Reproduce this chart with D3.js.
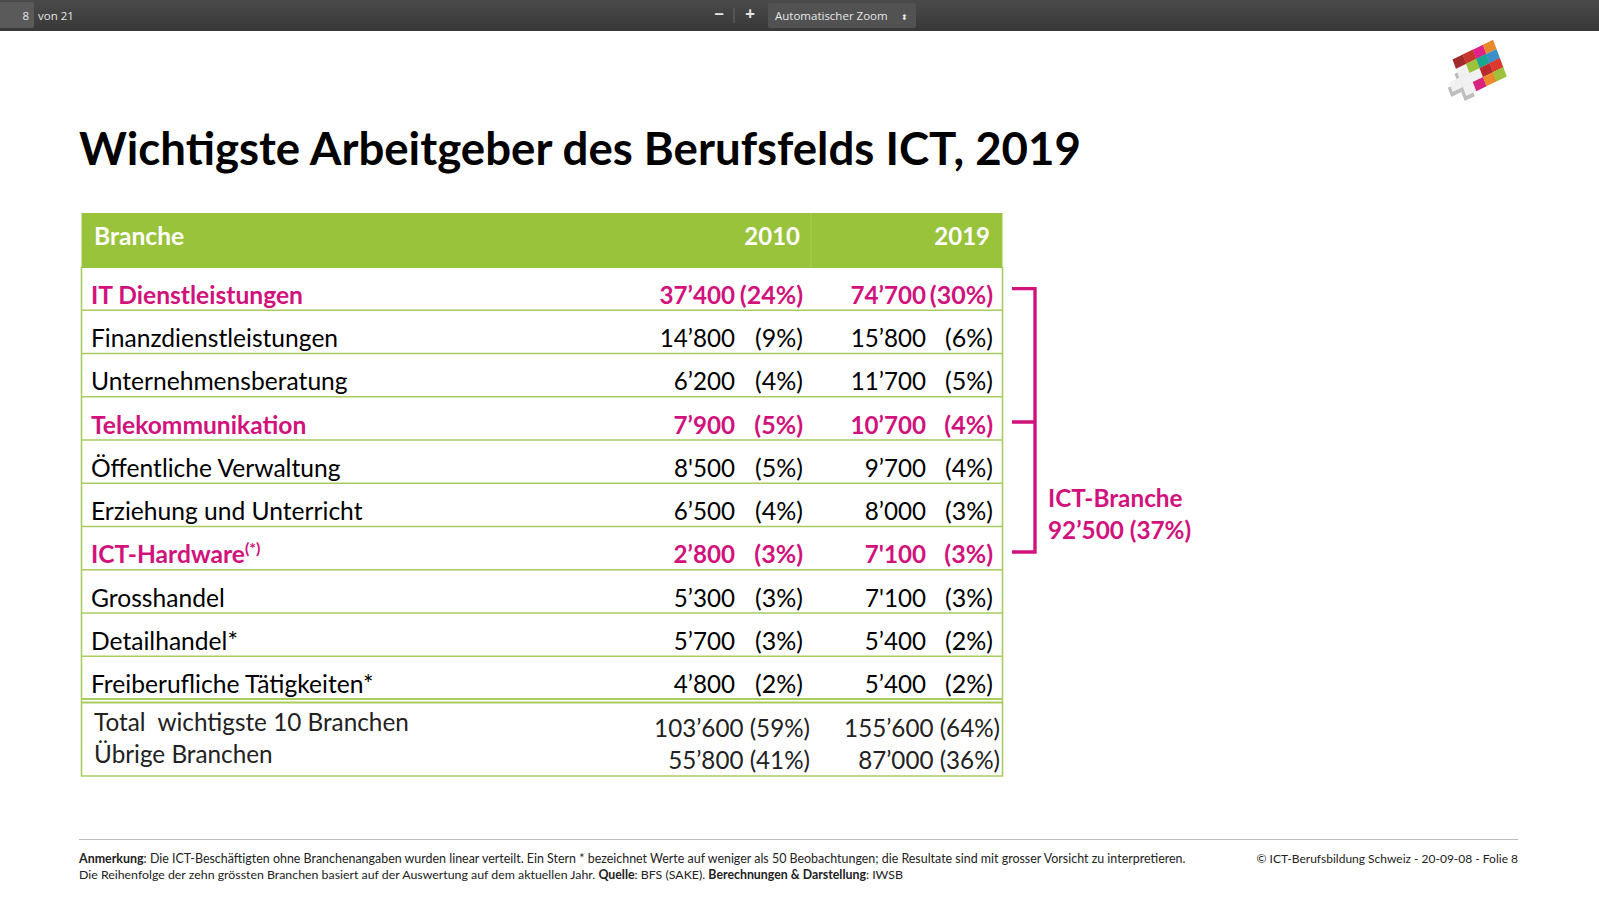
<!DOCTYPE html>
<html>
<head>
<meta charset="utf-8">
<script src="https://cdn.jsdelivr.net/npm/d3@7"></script>
<style>
  body { margin: 0; background: #fff; overflow: hidden; }
  svg { display: block; }
  text { font-family: Lato, "Open Sans", sans-serif; }
</style>
</head>
<body>
<svg id="slide" width="1599" height="899"></svg>
<script>
//table data
const branchen = ["IT Dienstleistungen", "Finanzdienstleistungen", "Unternehmensberatung", "Telekommunikation",
  "Öffentliche Verwaltung", "Erziehung und Unterricht", "ICT-Hardware", "Grosshandel", "Detailhandel*", "Freiberufliche Tätigkeiten*"]
const werte2010 = ["37’400", "14’800", "6’200", "7’900", "8'500", "6’500", "2’800", "5’300", "5’700", "4’800"]
const anteile2010 = ["(24%)", "(9%)", "(4%)", "(5%)", "(5%)", "(4%)", "(3%)", "(3%)", "(3%)", "(2%)"]
const werte2019 = ["74’700", "15’800", "11’700", "10’700", "9’700", "8’000", "7'100", "7'100", "5’400", "5’400"]
const anteile2019 = ["(30%)", "(6%)", "(5%)", "(4%)", "(4%)", "(3%)", "(3%)", "(3%)", "(2%)", "(2%)"]
//rows that make up the ICT branch
const ictBranchen = ["IT Dienstleistungen", "Telekommunikation", "ICT-Hardware"]

const summenLabels = ["Total  wichtigste 10 Branchen", "Übrige Branchen"]
const summen2010 = ["103’600 (59%)", "55’800 (41%)"]
const summen2019 = ["155’600 (64%)", "87’000 (36%)"]

//logo colours by row, null where the white cross sits
const logoFarben = [
  ["#a32a2a", "#c8342e", "#e0218a", "#e8892b"],
  [null, "#9cc33b", "#1aa58f", "#3d8fc8"],
  [null, null, "#b92a2c", "#dd3a2f"],
  [null, "#d9217f", "#ec8a2d", "#9cc33b"]
]
const logoKreuz = [[0, 1], [-1, 2], [0, 2], [1, 2], [0, 3]]

const GREEN = "#9ac33c", LINE = "#a9cc5e", PINK = "#d2127c"
const svg = d3.select("#slide")

//---- pdf viewer toolbar
const grad = svg.append("defs").append("linearGradient").attr("id", "bar").attr("x2", 0).attr("y2", 1)
grad.append("stop").attr("offset", 0).attr("stop-color", "#4a4a4a")
grad.append("stop").attr("offset", 1).attr("stop-color", "#383838")
const bar = svg.append("g")
bar.append("rect").attr("width", 1599).attr("height", 31).attr("fill", "url(#bar)")
bar.append("rect").attr("x", -3).attr("y", 2).attr("width", 37).attr("height", 26).attr("rx", 2).attr("fill", "#5a5a5a")
bar.append("rect").attr("x", 768).attr("y", 3).attr("width", 148).attr("height", 25).attr("rx", 2).attr("fill", "#525252")
bar.append("line").attr("x1", 734).attr("x2", 734).attr("y1", 8).attr("y2", 23).attr("stroke", "#666")
const barText = (x, s, size, anchor) => bar.append("text").attr("x", x).attr("y", 20).attr("fill", "#e6e6e6")
  .attr("font-size", size).attr("text-anchor", anchor || "start").style("font-family", "'Open Sans'").text(s)
barText(29, "8", 11.5, "end")
barText(38, "von 21", 11.5)
barText(719, "−", 17, "middle").attr("font-weight", 700)
barText(750, "+", 17, "middle").attr("font-weight", 700)
barText(775, "Automatischer Zoom", 11.5)
barText(904, "⬍", 8, "middle")

//---- logo, four by four cells on a skewed grid
const logo = svg.append("g").attr("transform", "matrix(10.1,-4.9,3.4,9.1,1452.5,59.5)")
logo.selectAll("rect.side").data(logoKreuz).join("rect").attr("class", "side")
  .attr("x", d => d[0] - 0.28).attr("y", d => d[1] + 0.42).attr("width", 1).attr("height", 1).attr("fill", "#bdbdbd")
logo.selectAll("rect.kreuz").data(logoKreuz).join("rect").attr("class", "kreuz")
  .attr("x", d => d[0]).attr("y", d => d[1]).attr("width", 1.02).attr("height", 1.02).attr("fill", "#f1f1f1")
const cells = logoFarben.flatMap((row, r) => row.map((c, i) => ({ r, i, c }))).filter(d => d.c)
logo.selectAll("rect.cell").data(cells).join("rect").attr("class", "cell")
  .attr("x", d => d.i).attr("y", d => d.r).attr("width", 1.02).attr("height", 1.02).attr("fill", d => d.c)

//---- title
svg.append("text").attr("x", 79).attr("y", 165).attr("font-size", 45.6).attr("font-weight", 700)
  .attr("fill", "#000").text("Wichtigste Arbeitgeber des Berufsfelds ICT, 2019")

//---- table
const tableLeft = 81.5, tableRight = 1002.5
const y = d3.scaleBand().domain(branchen).range([267, 699.5])
const col = { wert2010: 735, anteil2010: 803, wert2019: 926, anteil2019: 993 }

svg.append("rect").attr("x", tableLeft).attr("y", 213).attr("width", tableRight - tableLeft).attr("height", 55).attr("fill", GREEN)
svg.append("line").attr("x1", 811).attr("x2", 811).attr("y1", 213).attr("y2", 268).attr("stroke", "#a8cc55")

const header = [{ s: "Branche", x: 94, a: "start", f: 24.6 }, { s: "2010", x: 800, a: "end", f: 24 }, { s: "2019", x: 990, a: "end", f: 24 }]
svg.selectAll("text.head").data(header).join("text").attr("class", "head")
  .attr("x", d => d.x).attr("y", 245).attr("text-anchor", d => d.a)
  .attr("font-size", d => d.f).attr("font-weight", 700).attr("fill", "#fff").text(d => d.s)

//borders
svg.selectAll("line.rowline").data(branchen.slice(0, -1)).join("line").attr("class", "rowline")
  .attr("x1", tableLeft).attr("x2", tableRight)
  .attr("y1", d => y(d) + y.bandwidth()).attr("y2", d => y(d) + y.bandwidth())
  .attr("stroke", LINE).attr("stroke-width", 1.6)
svg.append("line").attr("x1", tableLeft).attr("x2", tableRight).attr("y1", 699).attr("y2", 699).attr("stroke", LINE).attr("stroke-width", 2)
svg.append("line").attr("x1", tableLeft).attr("x2", tableRight).attr("y1", 702.5).attr("y2", 702.5).attr("stroke", LINE).attr("stroke-width", 2)
svg.append("path").attr("d", `M${tableLeft},267V776H${tableRight}V267`).attr("fill", "none").attr("stroke", LINE).attr("stroke-width", 1.6)

//rows
const rows = svg.selectAll("g.row").data(branchen).join("g").attr("class", "row")
  .attr("transform", d => `translate(0,${y(d) + y.bandwidth() - 6.5})`)
  .attr("font-weight", d => ictBranchen.includes(d) ? 700 : 400)
  .attr("fill", d => ictBranchen.includes(d) ? PINK : "#000")
const labels = rows.append("text").attr("x", 91).attr("font-size", 24.6).text(d => d)
labels.filter(d => d === "ICT-Hardware").append("tspan").attr("dy", -9).attr("font-size", 16).text("(*)")
const valueCol = (arr, key, size) => rows.append("text").attr("x", col[key]).attr("text-anchor", "end")
  .attr("font-size", size).text((d, i) => arr[i])
valueCol(werte2010, "wert2010", 24.2)
valueCol(anteile2010, "anteil2010", 25)
valueCol(werte2019, "wert2019", 24.2)
valueCol(anteile2019, "anteil2019", 25)

//totals
const ySum = d3.scalePoint().domain(summenLabels).range([731, 763])
svg.selectAll("text.sumlabel").data(summenLabels).join("text").attr("class", "sumlabel")
  .attr("x", 94).attr("y", d => ySum(d)).attr("font-size", 24.3).attr("fill", "#222").attr("xml:space", "preserve").text(d => d)
summenLabels.forEach((d, i) => {
  svg.append("text").attr("x", 810).attr("y", ySum(d) + 6).attr("text-anchor", "end").attr("font-size", 24.2).attr("fill", "#222").text(summen2010[i])
  svg.append("text").attr("x", 1000).attr("y", ySum(d) + 6).attr("text-anchor", "end").attr("font-size", 24.2).attr("fill", "#222").text(summen2019[i])
})

//---- bracket around the ICT rows
const yMid = d => y(d) + y.bandwidth() / 2
const bTop = yMid(ictBranchen[0]), bBottom = yMid(ictBranchen[2]) + 3.8
svg.append("path").attr("d", `M1012,${bTop}H1035V${bBottom}H1012M1012,${yMid(ictBranchen[1]) + 3.6}H1035`)
  .attr("fill", "none").attr("stroke", PINK).attr("stroke-width", 3.4)
svg.selectAll("text.ict").data(["ICT-Branche", "92’500 (37%)"]).join("text").attr("class", "ict")
  .attr("x", 1048).attr("y", (d, i) => 507 + i * 32).attr("font-size", 24.3).attr("font-weight", 700).attr("fill", PINK).text(d => d)

//---- footer
svg.append("line").attr("x1", 79).attr("x2", 1518).attr("y1", 839.5).attr("y2", 839.5).attr("stroke", "#bdbdbd").attr("stroke-width", 1.2)
const foot1 = [["Anmerkung", 1], [": Die ICT-Beschäftigten ohne Branchenangaben wurden linear verteilt. Ein Stern * bezeichnet Werte auf weniger als 50 Beobachtungen; die Resultate sind mit grosser Vorsicht zu interpretieren.", 0]]
const foot2 = [["Die Reihenfolge der zehn grössten Branchen basiert auf der Auswertung auf dem aktuellen Jahr. ", 0], ["Quelle", 1], [": BFS (SAKE). ", 0], ["Berechnungen & Darstellung", 1], [": IWSB", 0]]
;[foot1, foot2].forEach((parts, i) => {
  svg.append("text").attr("x", 79).attr("y", 863 + i * 16).attr("font-size", i ? 12.35 : 12.45).attr("fill", "#222")
    .selectAll("tspan").data(parts).join("tspan").attr("font-weight", d => d[1] ? 700 : 400).text(d => d[0])
})
svg.append("text").attr("x", 1518).attr("y", 863).attr("text-anchor", "end").attr("font-size", 12).attr("fill", "#222")
  .text("© ICT-Berufsbildung Schweiz - 20-09-08 - Folie 8")
</script>
</body>
</html>
